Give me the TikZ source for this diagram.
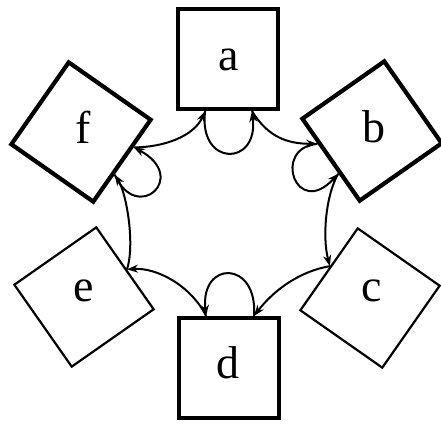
\documentclass[tikz,border=0pt]{standalone}
\usepackage{fontspec}
\setmainfont{Liberation Serif}
\usetikzlibrary{calc,arrows.meta}
\begin{document}
\begin{tikzpicture}[x=1pt,y=-1pt,
  sq/.style={draw, shape=rectangle, minimum size=100pt, inner sep=0pt, line width=4.2pt},
  thinsq/.style={sq, line width=2.2pt},
  lbl/.style={font=\fontsize{46}{50}\selectfont, inner sep=0pt},
  arc/.style={line width=2pt, -{Stealth[length=11pt,width=8pt]}}
]
\useasboundingbox (0,0) rectangle (441,423);
% boxes
\node[sq] (a) at (228,59) {};
\node[sq, rotate=35] (b) at (372,131) {};
\node[thinsq, rotate=-35] (c) at (370,298) {};
\node[sq] (d) at (229,368) {};
\node[thinsq, rotate=35] (e) at (84,297) {};
\node[sq, rotate=-35] (f) at (81,132) {};
% labels
\node[lbl] (la) at ([shift={(1,1)}]a.center) {a};
\node[lbl] (lb) at ([shift={(2,-4)}]b.center) {b};
\node[lbl] (lc) at ([shift={(2,-7)}]c.center) {c};
\node[lbl] (ld) at ([shift={(-1,-5)}]d.center) {d};
\node[lbl] (le) at ([shift={(0,-6)}]e.center) {e};
\node[lbl] (lf) at ([shift={(2,-5)}]f.center) {f};
% attachment points
\coordinate (Pa) at ($(a.south west)!0.28!(a.south east)$);
\coordinate (Qa) at ($(a.south west)!0.73!(a.south east)$);
\coordinate (Pb) at ($(b.north west)!0.3!(b.south west)$);
\coordinate (Qb) at ($(b.north west)!0.65!(b.south west)$);
\coordinate (Pc) at ($(c.north west)!0.47!(c.south west)$);
\coordinate (Pd) at ($(d.north west)!0.74!(d.north east)$);
\coordinate (Qd) at ($(d.north west)!0.28!(d.north east)$);
\coordinate (Pe) at ($(e.north east)!0.52!(e.south east)$);
\coordinate (Pf) at ($(f.north east)!0.65!(f.south east)$);
\coordinate (Qf) at ($(f.north east)!0.33!(f.south east)$);
% connectors
\draw[arc] (Qf) .. controls +(30,0) and +(-11,25) .. (Pa);
\draw[arc] (Pa) .. controls +(-7,56) and +(7,56) .. (Qa);
\draw[arc] (Qa) .. controls +(16,26) and +(-30,0) .. (Pb);
\draw[arc] (Pb) .. controls +(-46,4) and +(-42,46) .. (Qb);
\draw[arc] (Qb) .. controls +(-12,20) and +(-8,-30) .. (Pc);
\draw[arc] (Pc) .. controls +(-30,5) and +(20,-26) .. (Pd);
\draw[arc] (Pd) .. controls +(4,-56) and +(-6,-56) .. (Qd);
\draw[arc] (Qd) .. controls +(-15,-30) and +(30,-2) .. (Pe);
\draw[arc] (Pe) .. controls +(8,-25) and +(12,19) .. (Pf);
\draw[arc] (Pf) .. controls +(22,50) and +(56,30) .. (Qf);
\end{tikzpicture}
\end{document}
